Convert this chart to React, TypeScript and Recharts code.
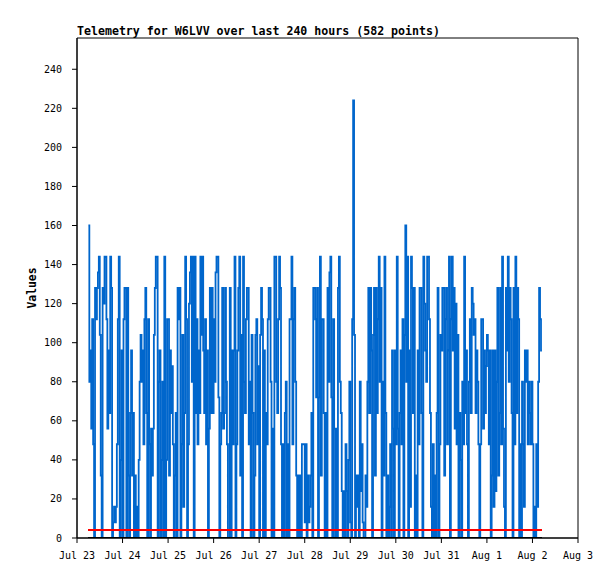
import React from "react";
import { LineChart, Line, XAxis, YAxis, ReferenceArea, Customized } from "recharts";

// Telemetry readings, one every half hour, starting Jul 23 06:00
const START_HOUR = 6;
const STEP_HOURS = 0.5;

const seg1 = [
  160, 80, 96, 56, 112, 48, 0, 128, 112, 128, 136, 144, 104, 32, 0, 128, 120, 144, 144, 112,
  56, 96, 64, 144, 128, 0, 8, 16, 8, 16, 48, 112, 144, 0, 40, 96, 0, 112, 128, 128,
  0, 128, 32, 0, 64, 96, 32, 64, 0, 32, 0, 16, 0, 40, 80, 104, 80, 96, 48, 112,
];
const seg2 = [
  128, 64, 0, 112, 48, 0, 56, 32, 56, 104, 128, 144, 144, 0, 80, 96, 0, 40, 80, 0,
  144, 0, 40, 112, 112, 32, 96, 64, 88, 48, 0, 32, 64, 0, 128, 112, 128, 0, 48, 104,
  16, 64, 144, 112, 0, 48, 120, 136, 144, 80, 144, 0, 144, 64, 112, 48, 96, 64, 144, 104,
];
const seg3 = [
  144, 96, 64, 112, 48, 96, 0, 56, 128, 64, 128, 64, 112, 80, 136, 144, 144, 72, 0, 48,
  64, 128, 56, 64, 128, 80, 48, 0, 0, 128, 0, 96, 48, 96, 144, 0, 48, 96, 128, 144,
  32, 104, 0, 144, 80, 64, 112, 128, 128, 48, 80, 0, 104, 64, 0, 32, 104, 112, 48, 88,
];
const seg4 = [
  0, 104, 128, 112, 0, 96, 0, 64, 48, 112, 128, 128, 80, 0, 56, 0, 144, 144, 80, 64,
  112, 144, 128, 48, 0, 48, 0, 64, 80, 0, 48, 0, 112, 112, 144, 48, 112, 128, 80, 32,
  0, 32, 0, 32, 0, 48, 48, 48, 8, 48, 0, 32, 8, 16, 32, 64, 0, 128, 128, 112, 72,
];
const seg5 = [
  128, 0, 72, 144, 32, 112, 112, 64, 0, 64, 0, 128, 80, 136, 144, 72, 0, 112, 56, 0,
  56, 0, 128, 144, 80, 64, 24, 0, 24, 0, 48, 24, 0, 40, 80, 8, 0, 112, 224, 104,
  0, 32, 16, 32, 0, 80, 24, 48, 8, 0, 0, 32, 16, 80, 128, 64, 128, 96, 0, 104, 128, 32,
];
const seg6 = [
  128, 64, 112, 144, 80, 128, 0, 80, 32, 144, 64, 0, 32, 0, 16, 48, 0, 96, 56, 0,
  96, 48, 144, 56, 0, 64, 96, 48, 112, 0, 104, 160, 80, 144, 0, 96, 16, 144, 128, 64,
  128, 0, 32, 0, 96, 48, 128, 128, 64, 0, 144, 120, 96, 80, 144, 144, 112, 64, 16, 0, 48,
];
const seg7 = [
  0, 32, 0, 64, 128, 0, 48, 104, 96, 128, 128, 32, 112, 128, 48, 96, 144, 0, 112, 144,
  96, 128, 56, 120, 48, 104, 0, 64, 40, 0, 80, 48, 144, 64, 96, 48, 0, 80, 112, 64,
  128, 120, 104, 112, 64, 96, 80, 48, 0, 48, 112, 112, 56, 96, 64, 88, 104, 96, 48, 96, 0,
];
const seg8 = [
  32, 96, 16, 96, 24, 80, 128, 32, 64, 128, 48, 144, 56, 16, 0, 128, 96, 144, 80, 128,
  112, 64, 0, 128, 48, 144, 64, 128, 112, 0, 48, 0, 80, 48, 16, 96, 80, 96, 48, 80,
  64, 48, 80, 48, 0, 16, 0, 48, 16, 80, 128, 112, 96, 96,
];

const values = [...seg1, ...seg2, ...seg3, ...seg4, ...seg5, ...seg6, ...seg7, ...seg8];
const threshold = 4;
const baseline = 0;

const xTickHours = [0, 24, 48, 72, 96, 120, 144, 168, 192, 216, 240, 264];
const xTickLabels = ["Jul 23", "Jul 24", "Jul 25", "Jul 26", "Jul 27", "Jul 28", "Jul 29", "Jul 30", "Jul 31", "Aug 1", "Aug 2", "Aug 3"];
const yTicks = [0, 20, 40, 60, 80, 100, 120, 140, 160, 180, 200, 220, 240];

const data = values.map((v, i) => ({ t: START_HOUR + i * STEP_HOURS, v, lo: threshold, z: baseline }));

const MONO = "'DejaVu Sans Mono', monospace";

const Labels = () => (
  <g>
    <text x={69} y={27} fontFamily={MONO} fontSize={11.6} fontWeight="bold" fill="#000">
      Telemetry for W6LVV over last 240 hours (582 points)
    </text>
    <text
      x={24}
      y={280}
      transform="rotate(-90 24 280)"
      textAnchor="middle"
      dominantBaseline="central"
      fontFamily={MONO}
      fontSize={11.4}
      fontWeight="bold"
      fill="#000"
    >
      Values
    </text>
  </g>
);

export default function App() {
  return (
    <LineChart width={607} height={571} data={data} margin={{ top: 30, right: 37, left: 29, bottom: 11 }}>
      <ReferenceArea x1={0} x2={264} y1={0} y2={256} fill="none" stroke="#000" strokeWidth={1} />
      <XAxis
        dataKey="t"
        type="number"
        domain={[0, 264]}
        ticks={xTickHours}
        interval={0}
        tickFormatter={(h: number) => xTickLabels[Math.round(h / 24)]}
        height={30}
        tickSize={5}
        tickMargin={9}
        axisLine={{ stroke: "#000" }}
        tickLine={{ stroke: "#000" }}
        tick={{ fontSize: 10, fontFamily: MONO, fill: "#000" }}
        allowDataOverflow
      />
      <YAxis
        type="number"
        domain={[0, 256]}
        ticks={yTicks}
        interval={0}
        width={40}
        tickSize={5}
        tickMargin={10}
        axisLine={{ stroke: "#000" }}
        tickLine={{ stroke: "#000" }}
        tick={{ fontSize: 10, fontFamily: MONO, fill: "#000" }}
        allowDataOverflow
      />
      <Line type="stepAfter" dataKey="v" stroke="#0066CC" strokeWidth={1.8} dot={false} isAnimationActive={false} />
      <Line type="linear" dataKey="lo" stroke="#FF0000" strokeWidth={2} dot={false} isAnimationActive={false} shapeRendering="crispEdges" />
      <Line type="linear" dataKey="z" stroke="#000" strokeWidth={3} dot={false} isAnimationActive={false} shapeRendering="crispEdges" />
      <Customized component={Labels} />
    </LineChart>
  );
}
